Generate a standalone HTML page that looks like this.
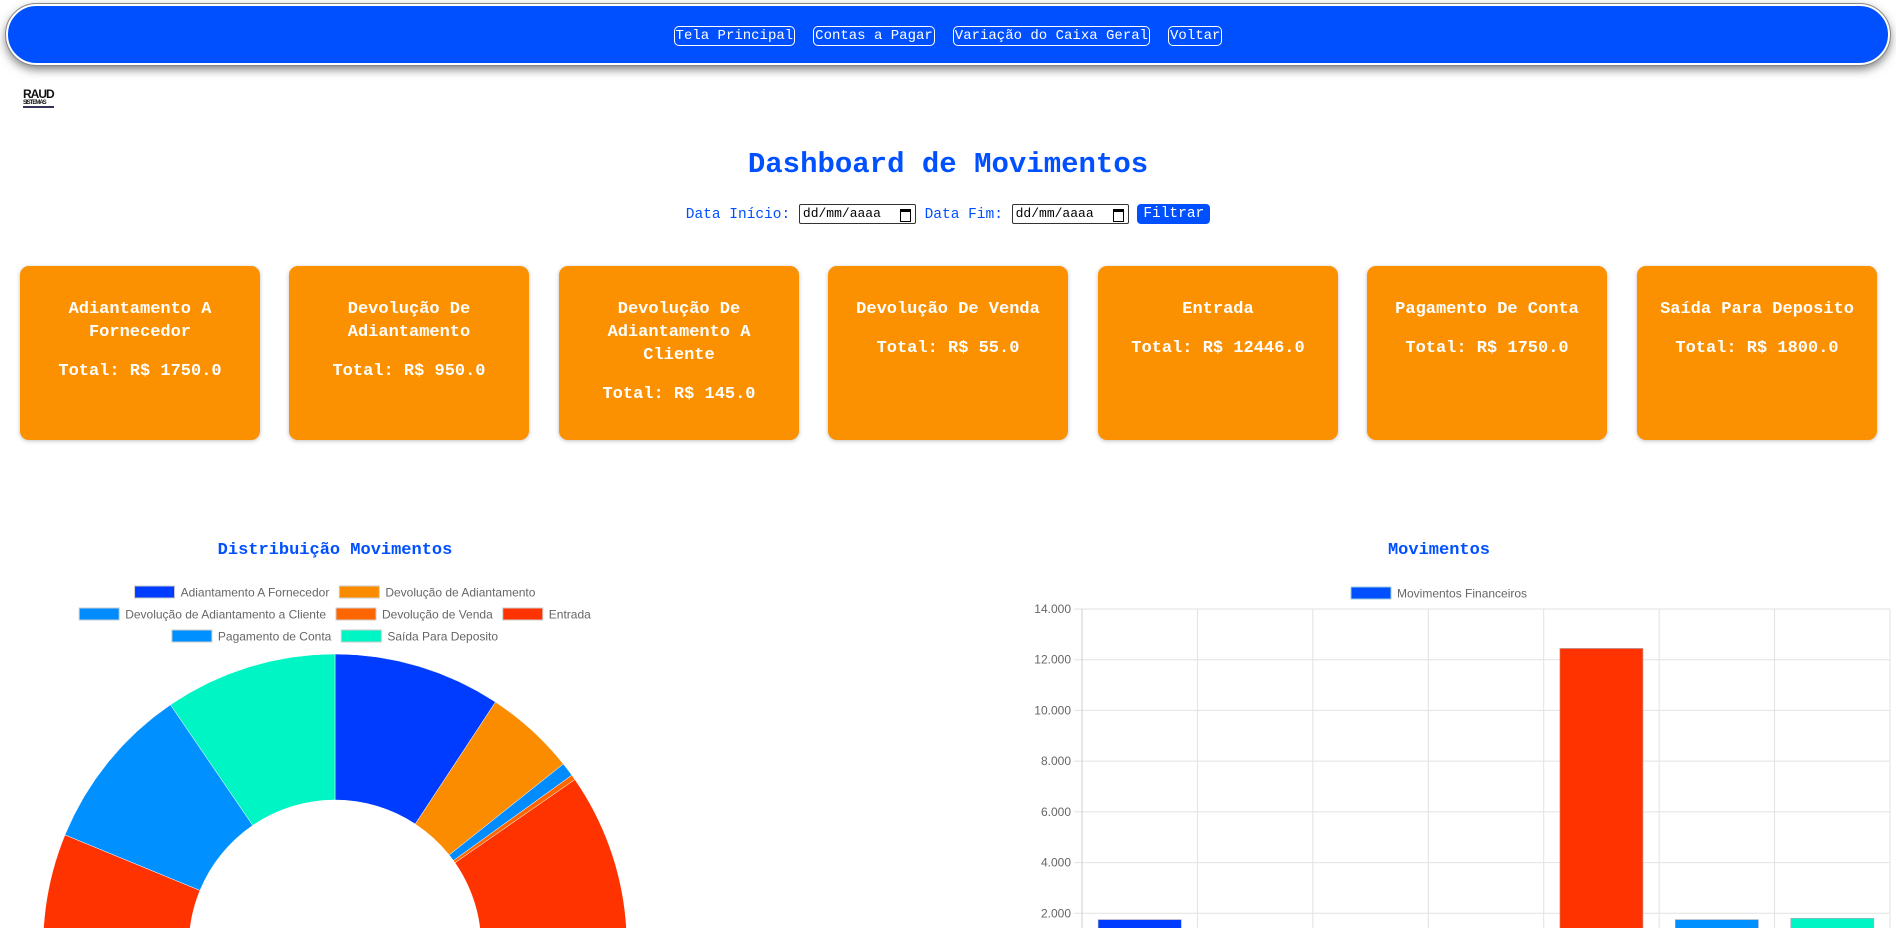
<!DOCTYPE html>
<html><head><meta charset="utf-8">
<style>
*{box-sizing:border-box}
html,body{overflow:hidden}
body{margin:0;width:1896px;height:928px;background:#fff;font-family:"Liberation Mono",monospace;position:relative}
.hdr{position:absolute;left:6px;top:4px;width:1884px;height:61px;background:#0050ff;border:2px solid #fff;border-radius:32px;box-shadow:0 4px 10px rgba(0,0,0,.55);outline:1px solid #888;outline-offset:0}
.nav{position:absolute;top:20px;left:0;width:100%;text-align:center;font-size:14px}
.nav a{display:inline-block;color:#fff;text-decoration:none;border:1.5px solid #fff;border-radius:5px;padding:0 1px;line-height:18px;margin:0 9px}
.logo{position:absolute;left:23px;top:89px;font:bold 12px "Liberation Sans",sans-serif;color:#111;line-height:11px;letter-spacing:-1px}
h1{position:absolute;top:148px;left:0;width:1896px;margin:0;text-align:center;color:#0050ff;font-size:29px;font-weight:bold}
.filter{position:absolute;top:204px;left:0;width:1896px;text-align:center;color:#0050ff;font-size:14.5px}
.filter .inp{display:inline-block;width:117px;height:20px;border:1px solid #333;border-radius:2px;color:#000;font-size:13px;line-height:18px;text-align:left;padding-left:3px;vertical-align:middle;position:relative}
.filter .inp:after{content:"";position:absolute;right:4px;top:4px;width:9px;height:9px;border:1.5px solid #000;border-top-width:3px}
.btn{display:inline-block;background:#0050ff;color:#fff;border-radius:4px;padding:0 6px;line-height:20px;vertical-align:middle}
.card{position:absolute;top:266px;width:240px;height:174px;background:#fb9000;border-radius:9px;box-shadow:0 1px 4px rgba(0,0,0,.25);color:#fff;text-align:center;font-weight:bold;font-size:17px;padding:32px 14px 0}
.card .t{line-height:23px}
.card .v{margin-top:16px;line-height:23px}
.ctitle{position:absolute;color:#0050ff;font-weight:bold;font-size:17px;text-align:center}
svg text{font-family:"Liberation Sans",sans-serif}
</style></head><body>
<div class="hdr">
<div class="nav"><a href="#">Tela Principal</a><a href="#">Contas a Pagar</a><a href="#">Variação do Caixa Geral</a><a href="#">Voltar</a></div>
</div>
<div class="logo">RAUD<br><span style="font-size:6px;line-height:6px;display:block;border-bottom:2px solid #335">SISTEMAS</span></div>
<h1>Dashboard de Movimentos</h1>
<div class="filter">Data Início: <span class="inp">dd/mm/aaaa</span> Data Fim: <span class="inp">dd/mm/aaaa</span> <span class="btn">Filtrar</span></div>

<div class="card" style="left:20px"><div class="t">Adiantamento A Fornecedor</div><div class="v">Total: R$ 1750.0</div></div>
<div class="card" style="left:289px"><div class="t">Devolução De Adiantamento</div><div class="v">Total: R$ 950.0</div></div>
<div class="card" style="left:559px"><div class="t">Devolução De Adiantamento A Cliente</div><div class="v">Total: R$ 145.0</div></div>
<div class="card" style="left:828px"><div class="t">Devolução De Venda</div><div class="v">Total: R$ 55.0</div></div>
<div class="card" style="left:1098px"><div class="t">Entrada</div><div class="v">Total: R$ 12446.0</div></div>
<div class="card" style="left:1367px"><div class="t">Pagamento De Conta</div><div class="v">Total: R$ 1750.0</div></div>
<div class="card" style="left:1637px"><div class="t">Saída Para Deposito</div><div class="v">Total: R$ 1800.0</div></div>

<div class="ctitle" style="left:0;width:670px;top:541px">Distribuição Movimentos</div>
<div class="ctitle" style="left:1000px;width:878px;top:541px">Movimentos</div>

<svg id="pie" width="1896" height="928" style="position:absolute;left:0;top:0;overflow:hidden"></svg>
<svg id="bar" width="1896" height="928" style="position:absolute;left:0;top:0;overflow:hidden"></svg>

<script>
const categories=["Adiantamento A Fornecedor","Devolução de Adiantamento","Devolução de Adiantamento a Cliente","Devolução de Venda","Entrada","Pagamento de Conta","Saída Para Deposito"];
const values=[1750,950,145,55,12446,1750,1800];
const colors=["#003cff","#fb8c00","#008cff","#ff6600","#ff3300","#0090ff","#00f5c4"];
const yTicks=[2000,4000,6000,8000,10000,12000,14000];
const tickLabels=["2.000","4.000","6.000","8.000","10.000","12.000","14.000"];
const NS="http://www.w3.org/2000/svg";
function mk(svg,tag,attrs){const e=document.createElementNS(NS,tag);for(const k in attrs)e.setAttribute(k,attrs[k]);svg.appendChild(e);return e;}
// doughnut
const pie=document.getElementById('pie');
const legendRows=[[0,1],[2,3,4],[5,6]];
const rowY=[592,614,636];
legendRows.forEach((row,ri)=>{
  const items=row.map(i=>{
    const r=mk(pie,'rect',{x:0,y:rowY[ri]-6,width:40,height:12,fill:colors[i],stroke:'#ccc','stroke-width':1});
    
    
    const t=mk(pie,'text',{x:0,y:rowY[ri]+4.5,'font-size':12,fill:'#666'});
    t.textContent=categories[i];
    
    
    return {r,t,w:46+t.getComputedTextLength()};
  });
  const total=items.reduce((a,b)=>a+b.w,0)+(items.length-1)*10;
  let x=335-total/2;
  items.forEach(it=>{it.r.setAttribute('x',x);it.t.setAttribute('x',x+46);x+=it.w+10;});
});
const cx=335,cy=946,R=292,r0=146;
const sum=values.reduce((a,b)=>a+b,0);
let a0=-Math.PI/2;
values.forEach((v,i)=>{
  const a1=a0+v/sum*2*Math.PI;
  const lg=(a1-a0)>Math.PI?1:0;
  const p=`M${cx+R*Math.cos(a0)},${cy+R*Math.sin(a0)} A${R},${R} 0 ${lg} 1 ${cx+R*Math.cos(a1)},${cy+R*Math.sin(a1)} L${cx+r0*Math.cos(a1)},${cy+r0*Math.sin(a1)} A${r0},${r0} 0 ${lg} 0 ${cx+r0*Math.cos(a0)},${cy+r0*Math.sin(a0)} Z`;
  const s=mk(pie,'path',{d:p,fill:colors[i],stroke:'#fff','stroke-width':0.5});
  
  
  a0=a1;
});
// bar
const bar=document.getElementById('bar');
const plotL=1082,plotR=1890,plotTop=609,yMax=14000,zeroY=964;
const yS=v=>zeroY-(v/yMax)*(zeroY-plotTop);
const bw=(plotR-plotL)/categories.length;
const lgs=mk(bar,'rect',{x:1351,y:587,width:40,height:12,fill:'#0050ff',stroke:'#9cd','stroke-width':1});


const lt=mk(bar,'text',{x:1397,y:597.5,'font-size':12,fill:'#666'});lt.textContent='Movimentos Financeiros';


yTicks.forEach((t,i)=>{
  const y=yS(t);
  mk(bar,'line',{x1:plotL-8,x2:plotR,y1:y,y2:y,stroke:'#e2e2e2','stroke-width':1});
  const tx=mk(bar,'text',{x:plotL-11,y:y+4,'font-size':12,fill:'#666','text-anchor':'end'});
  tx.textContent=tickLabels[i];
  
  
});
for(let i=0;i<=categories.length;i++){
  mk(bar,'line',{x1:plotL+i*bw,x2:plotL+i*bw,y1:plotTop,y2:928,stroke:i==0?'#ccc':'#e2e2e2','stroke-width':1});
}
values.forEach((v,i)=>{
  const w=bw*0.72;
  const y=yS(v);
  const b=mk(bar,'rect',{x:plotL+i*bw+(bw-w)/2,y:y,width:w,height:Math.max(0,zeroY-y),fill:colors[i],stroke:'#aab','stroke-width':0.6});
  
  
});
</script>
</body></html>
